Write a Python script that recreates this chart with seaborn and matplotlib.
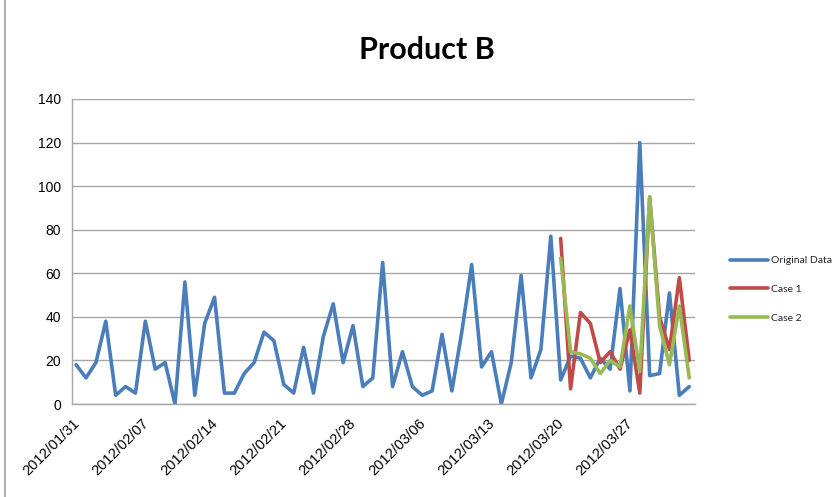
import numpy as np
import pandas as pd
import matplotlib
matplotlib.use("Agg")
import matplotlib.pyplot as plt
import matplotlib.transforms as mtransforms
from matplotlib.lines import Line2D
import seaborn as sns

# ---------------- data ----------------
start_date = "2012-01-31"
original_data = [18, 12, 19, 38, 4, 8, 5, 38, 16, 19,
                 0, 56, 4, 37, 49, 5, 5, 14, 19, 33,
                 29, 9, 5, 26, 5, 31, 46, 19, 36, 8,
                 12, 65, 8, 24, 8, 4, 6, 32, 6, 33,
                 64, 17, 24, 0, 19, 59, 12, 25, 77, 11,
                 22, 21, 12, 21, 16, 53, 6, 120, 13, 14,
                 51, 4, 8]
case1 = [76, 7, 42, 37, 19, 24, 16, 34, 5, 95, 40, 25, 58, 20]
case2 = [67, 24, 23, 21, 14, 20, 17, 45, 15, 95, 36, 18, 45, 12]
case_start_index = 49
tick_labels = ["2012/01/31", "2012/02/07", "2012/02/14", "2012/02/21",
               "2012/02/28", "2012/03/06", "2012/03/13", "2012/03/20",
               "2012/03/27", ""]
series_names = ["Original Data", "Case 1", "Case 2"]
colors = ["#4a7ebb", "#be4b48", "#98b954"]

# ---------------- frame ----------------
dates = pd.date_range(start_date, periods=len(original_data), freq="D")
xpos = dates + pd.Timedelta(hours=10)
rows = []
for d, v in zip(xpos, original_data):
    rows.append((d, v, series_names[0]))
for d, v in zip(xpos[case_start_index:], case1):
    rows.append((d, v, series_names[1]))
for d, v in zip(xpos[case_start_index:], case2):
    rows.append((d, v, series_names[2]))
df = pd.DataFrame(rows, columns=["date", "value", "series"])

sns.set_style("white")
plt.rcParams["font.family"] = ["Liberation Sans", "DejaVu Sans"]

W, H = 838, 497
fig = plt.figure(figsize=(W / 100, H / 100), dpi=100)
ax = fig.add_axes([72 / W, 1 - 404 / H, (695 - 72) / W, (404 - 99) / H])

sns.lineplot(data=df, x="date", y="value", hue="series",
             palette=dict(zip(series_names, colors)), linewidth=2.6,
             ax=ax, legend=False, sort=False)

ax.set_ylim(0, 140)
ax.set_yticks(np.arange(0, 141, 20))
ax.set_xlim(pd.Timestamp("2012-01-31"), pd.Timestamp("2012-04-03"))
ticks = pd.date_range("2012-01-31", "2012-04-03", freq="7D")
ax.set_xticks(ticks)
ax.set_xticklabels(tick_labels[:len(ticks)])
offset = mtransforms.ScaledTranslation(9 / 100, -11 / 100, fig.dpi_scale_trans)
for lab in ax.get_xticklabels():
    lab.set_rotation(45)
    lab.set_ha("right")
    lab.set_va("top")
    lab.set_rotation_mode("anchor")
    lab.set_fontsize(10.5)
    lab.set_transform(lab.get_transform() + offset)
ax.set_xlabel("")
ax.set_ylabel("")
ax.grid(axis="y", color="#a6a6a6", linewidth=1.0)
ax.set_axisbelow(True)
for s in ["top", "right"]:
    ax.spines[s].set_visible(False)
for s in ["left", "bottom"]:
    ax.spines[s].set_color("#a6a6a6")
    ax.spines[s].set_linewidth(1.0)
ax.tick_params(axis="both", which="both", length=5, color="#a6a6a6",
               width=1.0, labelsize=10, labelcolor="black", direction="out")
ax.tick_params(axis="x", pad=4, labelsize=10.5)
ax.tick_params(axis="y", pad=3)

fig.text(427 / W, 1 - 50 / H, "Product B", ha="center", va="center",
         fontsize=22, fontweight="bold", color="black",
         family=["Lato", "Liberation Sans", "DejaVu Sans"])

handles = [Line2D([0], [0], color=c, linewidth=2.6) for c in colors]
leg = fig.legend(handles, series_names, loc="upper left",
                 bbox_to_anchor=(726 / W, 1 - 252 / H),
                 frameon=False, handlelength=3.6, handletextpad=0.3,
                 labelspacing=1.85, borderaxespad=0,
                 prop={"family": ["Lato", "Liberation Sans"],
                       "size": 7.5})

# chart-area border (left edge)
fig.add_artist(Line2D([5 / W, 5 / W], [0, 1], color="#a0a0a0", linewidth=1.2,
                      transform=fig.transFigure))

fig.savefig("out.png", dpi=100)
